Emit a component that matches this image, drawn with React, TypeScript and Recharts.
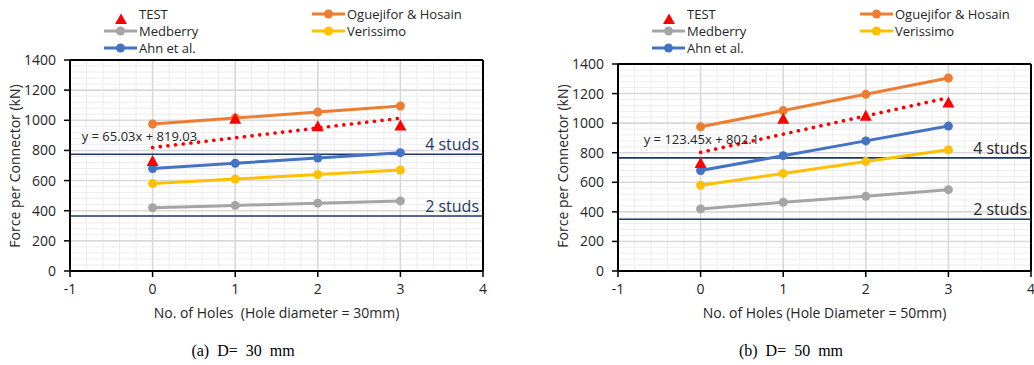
import React from 'react'
import {
  ComposedChart,
  Line,
  XAxis,
  YAxis,
  CartesianGrid,
  ReferenceLine,
  ReferenceDot,
} from 'recharts'

const holes = [0, 1, 2, 3]
const xTicks = [-1, 0, 1, 2, 3, 4]
const yTicks = [0, 200, 400, 600, 800, 1000, 1200, 1400]

// (a) hole diameter 30 mm
const test30 = [730, 1010, 960, 965]
const ogu30 = [975, 1015, 1055, 1095]
const med30 = [420, 435, 450, 465]
const ver30 = [580, 610, 640, 670]
const ahn30 = [680, 715, 750, 785]
const trend30 = [819, 1014]
const studs30 = [775, 365]

// (b) hole diameter 50 mm
const test50 = [730, 1030, 1050, 1140]
const ogu50 = [975, 1085, 1195, 1305]
const med50 = [420, 465, 505, 550]
const ver50 = [580, 660, 740, 820]
const ahn50 = [680, 780, 880, 980]
const trend50 = [802, 1172]
const studs50 = [765, 350]

const trendX = [0, 3]

const C = {
  test: '#FF0000',
  ogu: '#ED7D31',
  med: '#A5A5A5',
  ver: '#FFC000',
  ahn: '#4472C4',
  stud: '#1F3864',
  text: '#262626',
}

const minorX: number[] = []
for (let i = -5; i <= 20; i++) if (i % 5 !== 0) minorX.push(i / 5)
const minorY: number[] = []
for (let v = 0; v <= 1400; v += 40) if (v % 200 !== 0) minorY.push(v)

const FONT = '"Open Sans", sans-serif'
const PAD = 12

function Tri(props: any) {
  const { cx, cy, index } = props
  if (cx == null || cy == null) return null
  return (
    <polygon
      key={`tri-${index}`}
      points={`${cx},${cy - 6} ${cx + 6},${cy + 5} ${cx - 6},${cy + 5}`}
      fill={C.test}
    />
  )
}

function XTick(props: any) {
  const { x, y, payload } = props
  return (
    <text x={x} y={y + 13} textAnchor="middle" fontSize={14} fill={C.text} fontFamily={FONT}>
      {payload.value}
    </text>
  )
}

function YTick(props: any) {
  const { x, y, payload } = props
  return (
    <text x={x} y={y + 5} textAnchor="end" fontSize={14} fill={C.text} fontFamily={FONT}>
      {payload.value}
    </text>
  )
}

function LegendLine({ x, y, color, label }: { x: number; y: number; color: string; label: string }) {
  return (
    <div style={{ position: 'absolute', left: x, top: y - 8, height: 16, display: 'flex', alignItems: 'center' }}>
      <svg width={33} height={12}>
        <line x1={0} y1={6} x2={33} y2={6} stroke={color} strokeWidth={3} />
        <circle cx={16.5} cy={6} r={4.5} fill={color} />
      </svg>
      <span style={{ marginLeft: 2, fontSize: 13, color: C.text, whiteSpace: 'nowrap' }}>{label}</span>
    </div>
  )
}

interface PanelProps {
  left: number
  top: number
  width: number
  marginRight: number
  test: number[]
  ogu: number[]
  med: number[]
  ver: number[]
  ahn: number[]
  trend: number[]
  studs: number[]
  eq: string
  eqX: number
  eqY: number
  studText: string
  xTitle: string
  caption: string
}

function Panel(p: PanelProps) {
  const rows = holes.map((h, i) => ({
    x: h,
    test: p.test[i],
    ogu: p.ogu[i],
    med: p.med[i],
    ver: p.ver[i],
    ahn: p.ahn[i],
  }))
  const trendRows = trendX.map((h, i) => ({ x: h, trend: p.trend[i] }))
  const plotLeft = p.left + 70
  const plotRight = p.left + p.width - p.marginRight
  const plotMid = (plotLeft + plotRight) / 2

  const series = [
    { key: 'med', color: C.med },
    { key: 'ver', color: C.ver },
    { key: 'ahn', color: C.ahn },
    { key: 'ogu', color: C.ogu },
  ]

  return (
    <>
      {/* legend */}
      <div style={{ position: 'absolute', left: p.left + 115, top: 8, width: 12, height: 16 }}>
        <svg width={12} height={12}>
          <polygon points="6,0.5 12,11 0,11" fill={C.test} />
        </svg>
      </div>
      <span style={{ position: 'absolute', left: p.left + 139, top: 5, fontSize: 13, color: C.text }}>TEST</span>
      <LegendLine x={p.left + 104} y={31} color={C.med} label="Medberry" />
      <LegendLine x={p.left + 104} y={48} color={C.ahn} label="Ahn et al." />
      <LegendLine x={p.left + 312} y={14} color={C.ogu} label="Oguejifor & Hosain" />
      <LegendLine x={p.left + 312} y={31} color={C.ver} label="Verissimo" />

      <div style={{ position: 'absolute', left: p.left, top: p.top - PAD }}>
        <ComposedChart
          width={p.width}
          height={300 - p.top + PAD}
          data={rows}
          margin={{ top: PAD, right: p.marginRight, left: 30, bottom: 9 }}
        >
          <CartesianGrid
            stroke="#EDEDED"
            strokeWidth={1}
            horizontalValues={minorY}
            verticalValues={minorX}
          />
          <CartesianGrid
            stroke="#D9D9D9"
            strokeWidth={1.6}
            horizontalValues={yTicks}
            verticalValues={[0, 1, 2, 3]}
          />
          <XAxis
            type="number"
            dataKey="x"
            domain={[-1, 4]}
            ticks={xTicks}
            interval={0}
            allowDataOverflow
            height={20}
            tick={<XTick />}
            tickSize={6}
            tickMargin={4}
            axisLine={{ stroke: '#000', strokeWidth: 2 }}
            tickLine={{ stroke: '#000', strokeWidth: 1.5 }}
          />
          <YAxis
            type="number"
            domain={[0, 1400]}
            ticks={yTicks}
            interval={0}
            allowDataOverflow
            width={40}
            tick={<YTick />}
            tickSize={6}
            tickMargin={8}
            axisLine={{ stroke: '#000', strokeWidth: 2 }}
            tickLine={{ stroke: '#000', strokeWidth: 1.5 }}
          />
          <ReferenceLine y={1400} stroke="#000" strokeWidth={2} />
          <ReferenceLine x={4} stroke="#000" strokeWidth={2} />
          <ReferenceLine
            y={p.studs[0]}
            stroke={C.stud}
            strokeWidth={1.6}
            label={{ value: '4 studs', position: 'insideBottomRight', offset: 4, fontSize: 16, fill: p.studText, fontFamily: FONT }}
          />
          <ReferenceLine
            y={p.studs[1]}
            stroke={C.stud}
            strokeWidth={1.6}
            label={{ value: '2 studs', position: 'insideBottomRight', offset: 4, fontSize: 16, fill: p.studText, fontFamily: FONT }}
          />
          {series.map((s) => (
            <Line
              key={s.key}
              type="linear"
              dataKey={s.key}
              stroke={s.color}
              strokeWidth={3}
              dot={{ r: 4.5, fill: s.color, stroke: s.color, strokeWidth: 0 }}
              activeDot={false}
              isAnimationActive={false}
            />
          ))}
          <Line
            data={trendRows}
            type="linear"
            dataKey="trend"
            stroke={C.test}
            strokeWidth={3.6}
            strokeDasharray="0.1 7.6"
            strokeLinecap="round"
            dot={false}
            activeDot={false}
            isAnimationActive={false}
          />
          <Line
            type="linear"
            dataKey="test"
            stroke="none"
            dot={Tri}
            activeDot={false}
            isAnimationActive={false}
          />
          <ReferenceDot
            x={p.eqX}
            y={p.eqY}
            r={1}
            fill="none"
            stroke="none"
            label={{ value: p.eq, position: 'center', fontSize: 13, fill: C.text, fontFamily: FONT }}
          />
        </ComposedChart>
      </div>

      {/* axis titles */}
      <div
        style={{
          position: 'absolute',
          left: p.left + 14,
          top: 166,
          transform: 'translate(-50%, -50%) rotate(-90deg)',
          fontSize: 14,
          color: C.text,
          whiteSpace: 'nowrap',
        }}
      >
        Force per Connector (kN)
      </div>
      <div
        style={{
          position: 'absolute',
          left: plotMid,
          top: 312,
          transform: 'translate(-50%, -50%)',
          fontSize: 14,
          color: C.text,
          whiteSpace: 'pre',
        }}
      >
        {p.xTitle}
      </div>
      <div
        style={{
          position: 'absolute',
          left: p.left + 243,
          top: 351,
          transform: 'translate(-50%, -50%)',
          fontSize: 16,
          fontFamily: '"Liberation Serif", "Times New Roman", serif',
          color: '#000',
          whiteSpace: 'pre',
        }}
      >
        {p.caption}
      </div>
    </>
  )
}

export default function App() {
  return (
    <div
      style={{
        position: 'absolute',
        left: 0,
        top: 0,
        width: 1034,
        height: 365,
        background: '#fff',
        overflow: 'hidden',
        fontFamily: FONT,
      }}
    >
      <Panel
        left={0}
        top={60}
        width={520}
        marginRight={37}
        test={test30}
        ogu={ogu30}
        med={med30}
        ver={ver30}
        ahn={ahn30}
        trend={trend30}
        studs={studs30}
        eq="y = 65.03x + 819.03"
        eqX={-0.16}
        eqY={895}
        studText={C.stud}
        xTitle="No. of Holes  (Hole diameter = 30mm)"
        caption="(a)  D=  30  mm"
      />
      <Panel
        left={548}
        top={64}
        width={486}
        marginRight={3}
        test={test50}
        ogu={ogu50}
        med={med50}
        ver={ver50}
        ahn={ahn50}
        trend={trend50}
        studs={studs50}
        eq="y = 123.45x + 802.1"
        eqX={0.01}
        eqY={892}
        studText={C.text}
        xTitle="No. of Holes (Hole Diameter = 50mm)"
        caption="(b)  D=  50  mm"
      />
    </div>
  )
}
